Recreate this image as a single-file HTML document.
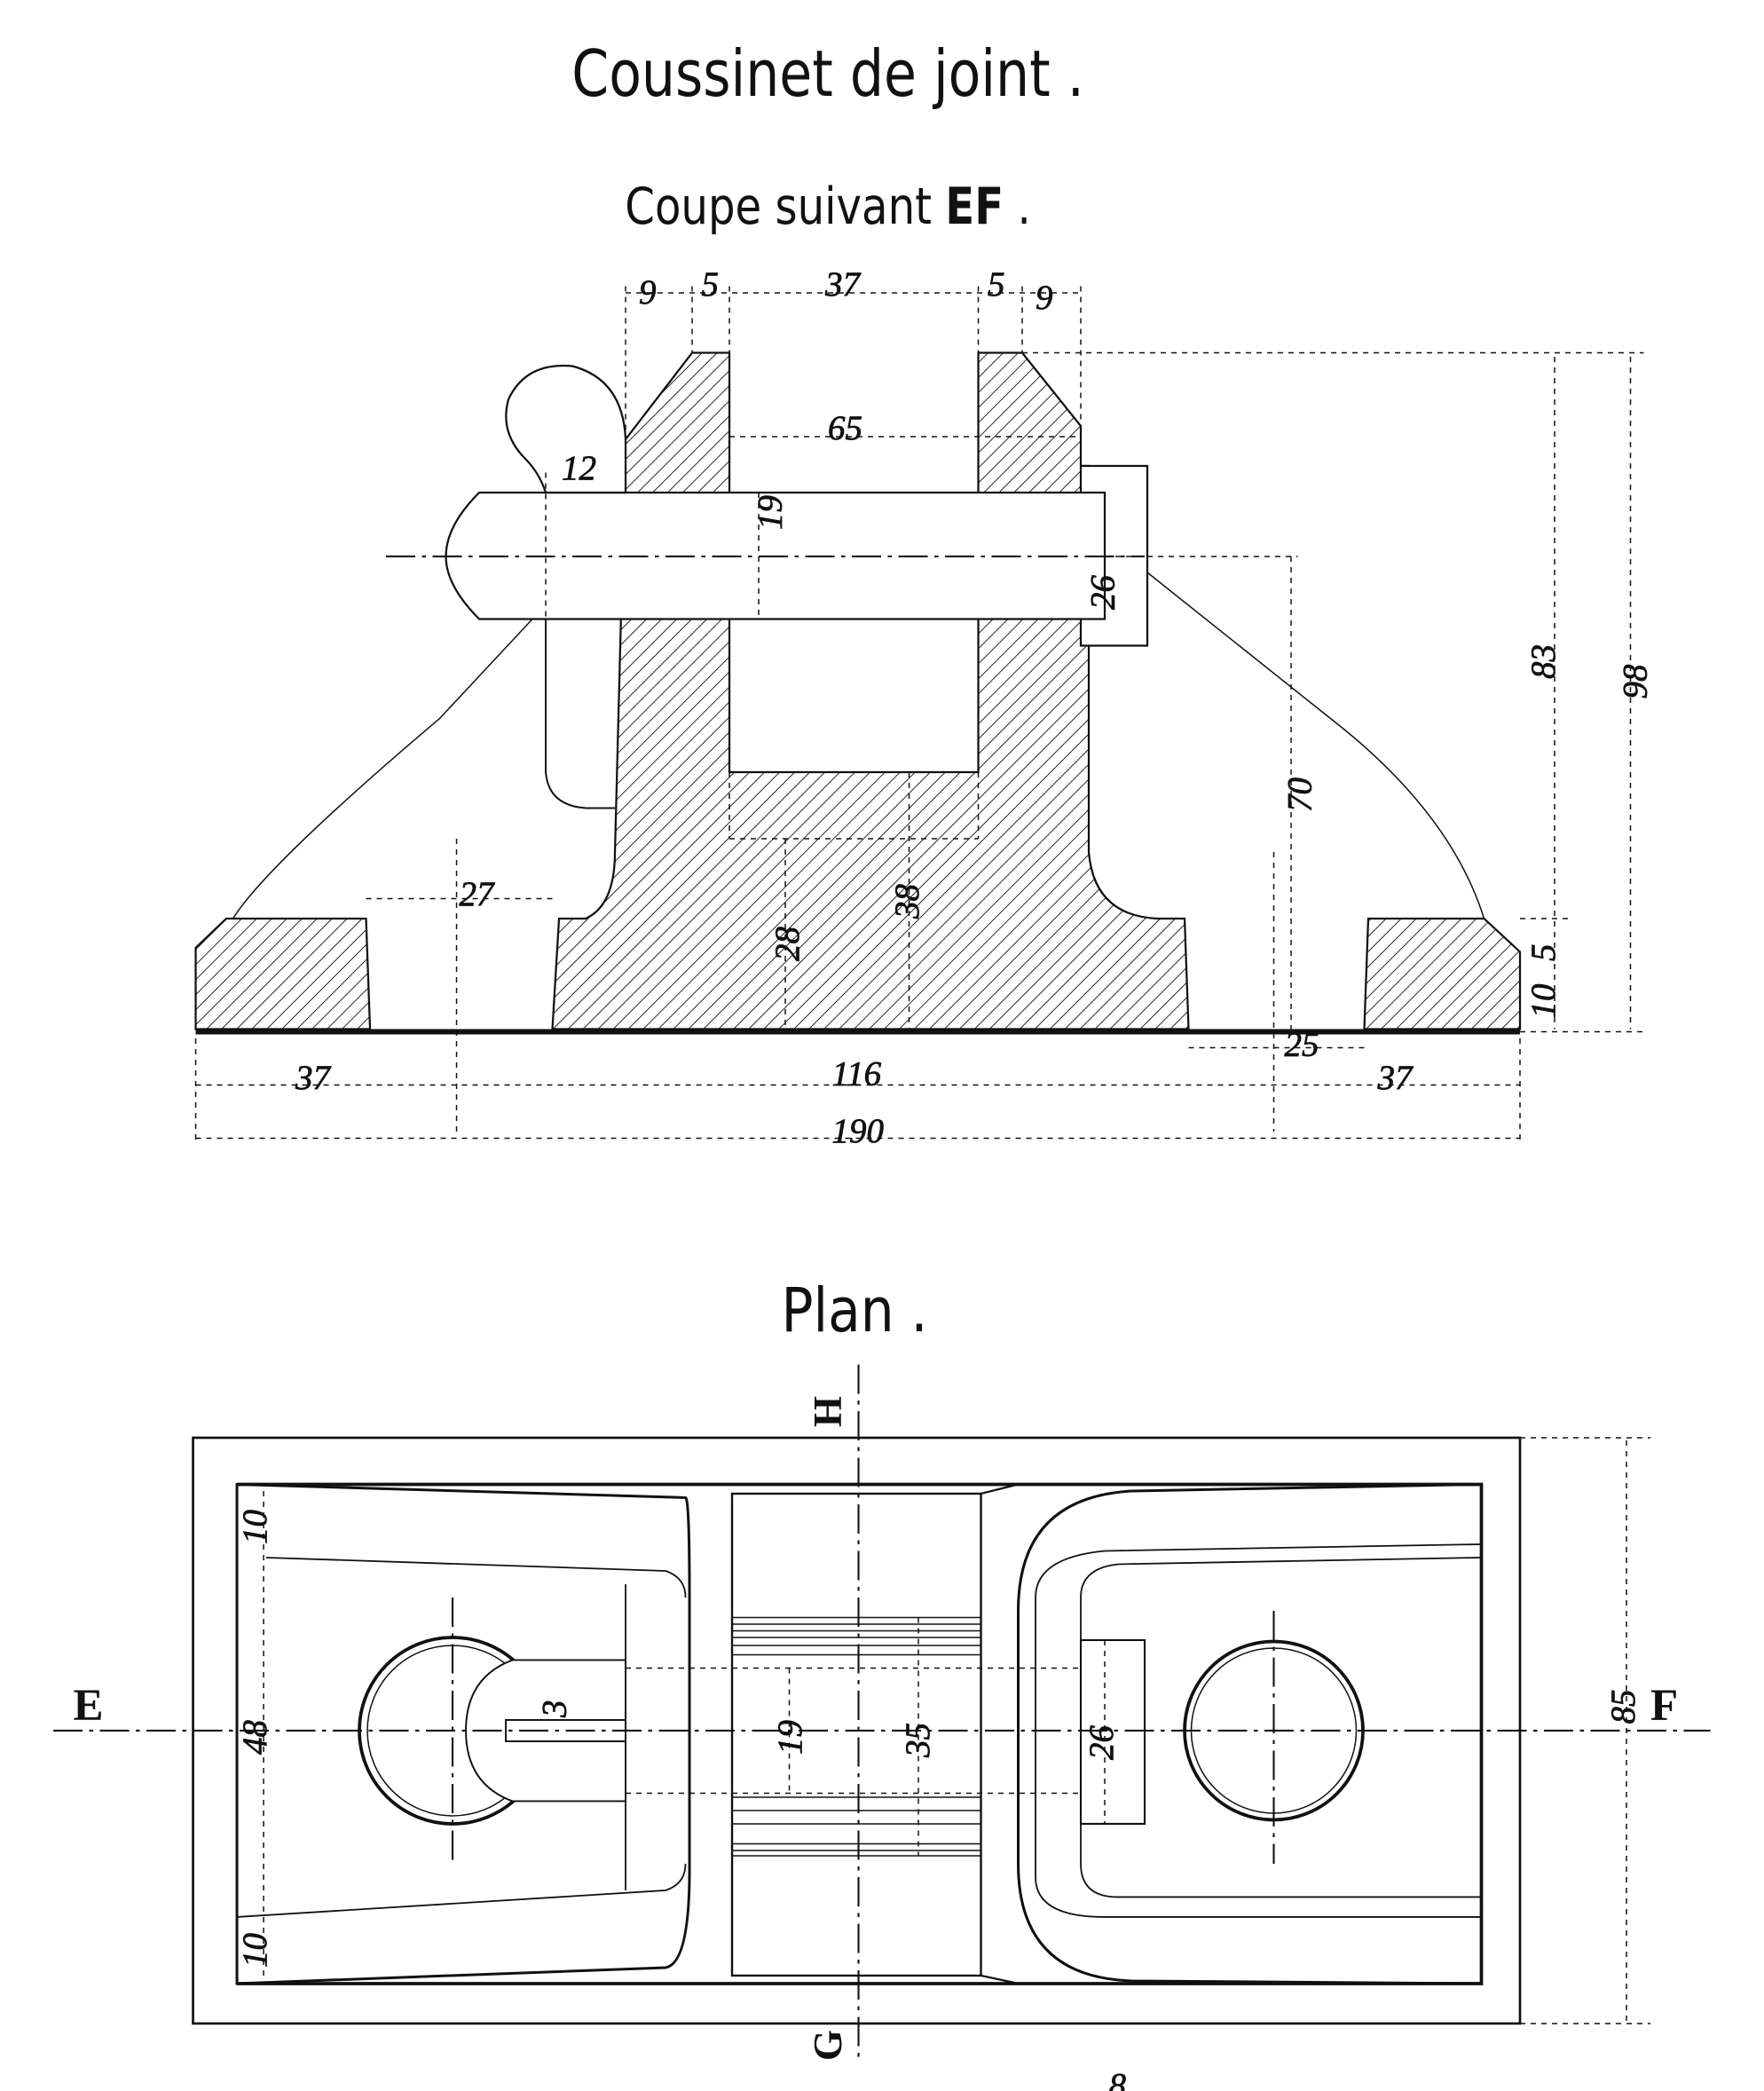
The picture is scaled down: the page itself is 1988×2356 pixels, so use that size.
<!DOCTYPE html>
<html><head><meta charset="utf-8"><style>
html,body{margin:0;padding:0;background:#fff}
svg{display:block}
text{font-family:"Liberation Sans",sans-serif;fill:#111}
.d{font-family:"Liberation Serif",serif;font-style:italic;font-size:26px;stroke:#111;stroke-width:0.5}
</style></head><body>
<svg width="1988" height="2356" viewBox="0 0 1325.3 1570.7" xmlns="http://www.w3.org/2000/svg">
<defs>
<pattern id="h" width="8" height="8" patternUnits="userSpaceOnUse" patternTransform="rotate(45)">
<rect width="8" height="8" fill="#fff"/><line x1="0" y1="0" x2="0" y2="8" stroke="#222" stroke-width="1.3"/>
</pattern>
</defs>
<g fill="none" stroke="#111">
<text x="622" y="72" text-anchor="middle" font-size="48" style="font-family:'DejaVu Sans Condensed','Liberation Sans',sans-serif;font-weight:300" textLength="385" lengthAdjust="spacingAndGlyphs" stroke="none">Coussinet de joint .</text>
<text x="622" y="168" text-anchor="middle" font-size="38" style="font-family:'DejaVu Sans Condensed','Liberation Sans',sans-serif" textLength="305" lengthAdjust="spacingAndGlyphs" stroke="none">Coupe suivant <tspan font-weight="bold">EF</tspan> .</text>

<!-- section -->
<path d="M147,712 L170,690 L275,690 L278,773 L147,773 Z" fill="url(#h)" stroke-width="1.5"/>
<path d="M1028,690 L1115,690 L1142,715 L1142,773 L1025,773 Z" fill="url(#h)" stroke-width="1.5"/>
<path d="M415,773 L420,690 L440,690 Q462,680 462,640 L470,330 L520,265 L548,265 L548,580 L735,580 L735,265 L768,265 L812,320 L812,350 L818,350 L818,640 Q822,688 870,690 L890,690 L893,773 Z" fill="url(#h)" stroke-width="1.5"/>
<rect x="812" y="350" width="50" height="135" fill="#fff" stroke-width="1.5"/>
<path d="M360,370 L830,370 L830,465 L360,465 Q335,440 335,418 Q335,395 360,370 Z" fill="#fff" stroke-width="1.5"/>
<path d="M410,370 Q405,355 395,345 Q375,325 382,300 Q395,272 430,275 Q468,285 470,330 L470,370 Z" fill="#fff" stroke-width="1.5"/>
<path d="M410,465 L410,580 Q412,605 440,607 L462,607" stroke-width="1.3"/>
<path d="M400,465 L330,540 Q200,650 175,690" stroke-width="1"/>
<path d="M862,430 L1000,540 Q1090,610 1115,690" stroke-width="1"/>
<line x1="147" y1="775" x2="1142" y2="775" stroke-width="4"/>
<g stroke-dasharray="4,4" stroke-width="1">
<line x1="548" y1="580" x2="548" y2="630"/><line x1="735" y1="580" x2="735" y2="630"/><line x1="548" y1="630" x2="735" y2="630"/>
<line x1="470" y1="215" x2="470" y2="330"/><line x1="520" y1="215" x2="520" y2="265"/><line x1="548" y1="215" x2="548" y2="265"/>
<line x1="735" y1="215" x2="735" y2="265"/><line x1="768" y1="215" x2="768" y2="265"/><line x1="812" y1="215" x2="812" y2="320"/>
<line x1="768" y1="265" x2="1235" y2="265"/><line x1="548" y1="328" x2="810" y2="328"/>
<line x1="410" y1="355" x2="410" y2="465"/>
<line x1="1142" y1="690" x2="1180" y2="690"/><line x1="1142" y1="775" x2="1235" y2="775"/>
<line x1="1168" y1="268" x2="1168" y2="773"/><line x1="1225" y1="268" x2="1225" y2="773"/>
<line x1="970" y1="418" x2="970" y2="773"/><line x1="830" y1="418" x2="975" y2="418"/>
<line x1="590" y1="630" x2="590" y2="773"/><line x1="683" y1="580" x2="683" y2="773"/>
<line x1="570" y1="370" x2="570" y2="465"/>
<line x1="275" y1="675" x2="415" y2="675"/><line x1="893" y1="787" x2="1025" y2="787"/>
<line x1="147" y1="815" x2="1142" y2="815"/><line x1="147" y1="855" x2="1142" y2="855"/>
<line x1="147" y1="780" x2="147" y2="860"/><line x1="1142" y1="780" x2="1142" y2="860"/>
<line x1="343" y1="630" x2="343" y2="850"/><line x1="957" y1="640" x2="957" y2="850"/>
<line x1="470" y1="220" x2="812" y2="220"/>
</g>
<line x1="290" y1="418" x2="860" y2="418" stroke-dasharray="22,5,3,5" stroke-width="1.4"/>
<g>
<text class="d" x="480" y="228">9</text><text class="d" x="527" y="222">5</text><text class="d" x="620" y="222">37</text>
<text class="d" x="742" y="222">5</text><text class="d" x="778" y="232">9</text>
<text class="d" x="622" y="330">65</text><text class="d" x="422" y="360">12</text>
<text class="d" x="345" y="680">27</text><text class="d" x="965" y="793">25</text>
<text class="d" x="222" y="818">37</text><text class="d" x="625" y="815">116</text><text class="d" x="1035" y="818">37</text>
<text class="d" x="625" y="858">190</text>
<text class="d" transform="translate(587,398) rotate(-90)">19</text>
<text class="d" transform="translate(837,458) rotate(-90)">26</text>
<text class="d" transform="translate(600,722) rotate(-90)">28</text>
<text class="d" transform="translate(690,690) rotate(-90)">38</text>
<text class="d" transform="translate(985,610) rotate(-90)">70</text>
<text class="d" transform="translate(1168,510) rotate(-90)">83</text>
<text class="d" transform="translate(1237,525) rotate(-90)">98</text>
<text class="d" font-size="18" transform="translate(1168,722) rotate(-90)">5</text>
<text class="d" font-size="18" transform="translate(1168,765) rotate(-90)">10</text>
</g>

<!-- plan -->
<text x="642" y="1000" text-anchor="middle" font-size="46" style="font-family:'DejaVu Sans Condensed','Liberation Sans',sans-serif;font-weight:300" stroke="none" textLength="110" lengthAdjust="spacingAndGlyphs">Plan .</text>
<rect x="145" y="1080" width="997" height="440" stroke-width="1.8"/>
<path d="M178,1115 L515,1125 Q518,1125 518,1200 L518,1405 Q518,1475 500,1478 L178,1490 Z" stroke-width="2"/>
<path d="M178,1115 L1113,1115 L1113,1490 L178,1490" stroke-width="2.5"/>
<path d="M200,1170 L500,1180 Q515,1185 515,1200 M178,1440 L500,1420 Q515,1415 515,1400" stroke-width="1.2"/>
<path d="M470,1190 L470,1420" stroke-width="1.2"/>
<rect x="550" y="1122" width="187" height="362" fill="#fff" stroke-width="1.6"/>
<g stroke-width="1">
<line x1="550" y1="1215" x2="737" y2="1215"/><line x1="550" y1="1220" x2="737" y2="1220"/><line x1="550" y1="1225" x2="737" y2="1225"/>
<line x1="550" y1="1230" x2="737" y2="1230"/><line x1="550" y1="1236" x2="737" y2="1236"/><line x1="550" y1="1243" x2="737" y2="1243"/>
<line x1="550" y1="1350" x2="737" y2="1350"/><line x1="550" y1="1360" x2="737" y2="1360"/><line x1="550" y1="1370" x2="737" y2="1370"/>
<line x1="550" y1="1385" x2="737" y2="1385"/><line x1="550" y1="1390" x2="737" y2="1390"/><line x1="550" y1="1394" x2="737" y2="1394"/>
</g>
<path d="M737,1122 L765,1115 M737,1484 L765,1490" stroke-width="1.5"/>
<path d="M1113,1115 L850,1120 Q765,1125 765,1210 L765,1400 Q765,1485 850,1488 L1113,1490" stroke-width="2"/>
<path d="M1113,1160 L830,1165 Q778,1170 778,1200 L778,1410 Q778,1440 830,1440 L1113,1440" stroke-width="1.2"/>
<path d="M1113,1170 L840,1175 Q812,1178 812,1200 L812,1400 Q812,1425 840,1425 L1113,1425" stroke-width="1.2"/>
<circle cx="340" cy="1300" r="70" stroke-width="2.5"/><circle cx="340" cy="1300" r="64" stroke-width="1"/>
<path d="M385,1247 L470,1247 L470,1353 L385,1353 Q350,1340 350,1300 Q350,1260 385,1247 Z" fill="#fff" stroke-width="1.3"/>
<rect x="380" y="1292" width="90" height="16" stroke-width="1.3"/>
<circle cx="957" cy="1300" r="67" stroke-width="2.5"/><circle cx="957" cy="1300" r="62" stroke-width="1"/>
<rect x="812" y="1232" width="48" height="138" fill="#fff" stroke-width="1.4"/>
<g stroke-dasharray="4,4" stroke-width="1">
<line x1="470" y1="1253" x2="812" y2="1253"/><line x1="470" y1="1347" x2="812" y2="1347"/>
<line x1="198" y1="1120" x2="198" y2="1485"/>
<line x1="593" y1="1253" x2="593" y2="1347"/><line x1="690" y1="1215" x2="690" y2="1394"/>
<line x1="1142" y1="1080" x2="1240" y2="1080"/><line x1="1142" y1="1520" x2="1240" y2="1520"/>
<line x1="1222" y1="1082" x2="1222" y2="1518"/>
<line x1="830" y1="1232" x2="830" y2="1370"/>
</g>
<g stroke-dasharray="22,5,3,5" stroke-width="1.4">
<line x1="40" y1="1300" x2="1285" y2="1300"/>
<line x1="645" y1="1025" x2="645" y2="1550"/>
<line x1="340" y1="1200" x2="340" y2="1400"/><line x1="957" y1="1210" x2="957" y2="1400"/>
</g>
<g>
<text x="55" y="1292" font-size="34" font-weight="bold" stroke="none" style="font-family:'Liberation Serif',serif">E</text>
<text x="1240" y="1292" font-size="34" font-weight="bold" stroke="none" style="font-family:'Liberation Serif',serif">F</text>
<text font-size="30" font-weight="bold" stroke="none" style="font-family:'Liberation Serif',serif" transform="translate(632,1072) rotate(-90)">H</text>
<text font-size="30" font-weight="bold" stroke="none" style="font-family:'Liberation Serif',serif" transform="translate(632,1548) rotate(-90)">G</text>
<text class="d" font-size="20" transform="translate(200,1160) rotate(-90)">10</text>
<text class="d" font-size="20" transform="translate(200,1478) rotate(-90)">10</text>
<text class="d" transform="translate(200,1318) rotate(-90)">48</text>
<text class="d" font-size="20" transform="translate(425,1290) rotate(-90)">3</text>
<text class="d" transform="translate(602,1318) rotate(-90)">19</text>
<text class="d" transform="translate(698,1320) rotate(-90)">35</text>
<text class="d" transform="translate(836,1322) rotate(-90)">26</text>
<text class="d" transform="translate(1228,1295) rotate(-90)">85</text>
<text class="d" x="833" y="1575">8</text>
</g>
</g>
</svg>
</body></html>
